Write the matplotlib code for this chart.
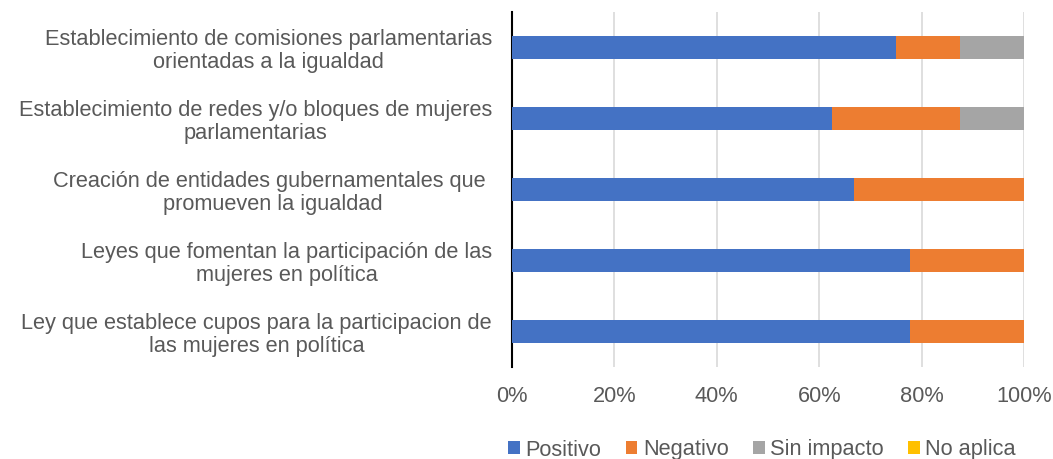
import numpy as np
import matplotlib.pyplot as plt

plt.rcParams['font.family'] = ['Liberation Sans', 'DejaVu Sans']

categorias = [
    'Establecimiento de comisiones parlamentarias\norientadas a la igualdad',
    'Establecimiento de redes y/o bloques de mujeres\nparlamentarias',
    'Creación de entidades gubernamentales que \npromueven la igualdad',
    'Leyes que fomentan la participación de las\nmujeres en política',
    'Ley que establece cupos para la participacion de\nlas mujeres en política',
]
positivo = [75.0, 62.5, 66.7, 77.8, 77.8]
negativo = [12.5, 25.0, 33.3, 22.2, 22.2]
sin_impacto = [12.5, 12.5, 0.0, 0.0, 0.0]
no_aplica = [0.0, 0.0, 0.0, 0.0, 0.0]

series = ['Positivo', 'Negativo', 'Sin impacto', 'No aplica']
colores = ['#4472C4', '#ED7D31', '#A5A5A5', '#FFC000']
valores = [positivo, negativo, sin_impacto, no_aplica]

fig = plt.figure(figsize=(10.53, 4.59), dpi=100)
ax = fig.add_axes([512 / 1053, 92 / 459, 512 / 1053, 355 / 459])

y = np.arange(len(categorias))
izq = np.zeros(len(categorias))
for nombre, col, vals in zip(series, colores, valores):
    ax.barh(y, vals, left=izq, height=0.31, color=col, label=nombre, zorder=3)
    izq += np.array(vals)

ax.set_ylim(4.5, -0.5)
ax.set_xlim(0, 100)
ax.set_xticks(np.arange(0, 101, 20))
ax.set_xticklabels([f'{v}%' for v in range(0, 101, 20)])
ax.set_yticks(y)
ax.set_yticklabels(categorias, multialignment='center', linespacing=1.15)

ax.grid(axis='x', color='#D9D9D9', linewidth=1.2, zorder=0)
for s in ['top', 'right', 'bottom']:
    ax.spines[s].set_visible(False)
ax.spines['left'].set_color('#000000')
ax.spines['left'].set_linewidth(1.5)
ax.tick_params(axis='both', length=0, labelsize=15.7, colors='#595959')
ax.tick_params(axis='y', pad=14.4)
ax.tick_params(axis='x', pad=14)

ax.legend(loc='center', bbox_to_anchor=(762 / 1053, 9 / 459), bbox_transform=fig.transFigure,
          ncol=4, frameon=False, fontsize=15.7, handlelength=0.55, handleheight=0.55,
          handletextpad=0.25, columnspacing=1.1, labelcolor='#595959')

fig.savefig('out.png', dpi=100)
